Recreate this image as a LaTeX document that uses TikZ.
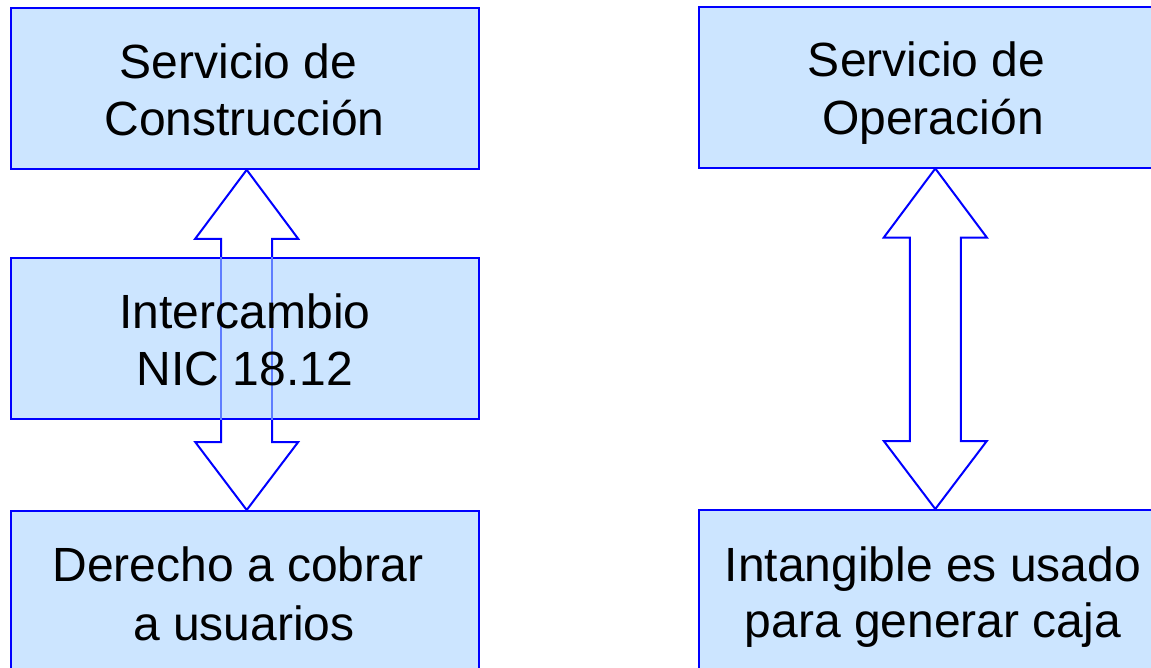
\documentclass[tikz,border=0pt]{standalone}
\usepackage{fontspec}
\setmainfont{Liberation Sans}
\usetikzlibrary{calc}
\definecolor{boxfill}{RGB}{204,229,255}
\definecolor{boxline}{RGB}{0,0,255}
\definecolor{shaftlight}{RGB}{95,125,255}
\begin{document}
\begin{tikzpicture}[x=1pt,y=-1pt,
  box/.style={draw=boxline, line width=2pt, fill=boxfill, minimum width=468pt, minimum height=161pt, inner sep=0pt},
  lbl/.style={font=\fontsize{48}{57}\selectfont, text=black, inner sep=0pt, anchor=base},
  dbl/.style={draw=boxline, line width=2pt, fill=white, line join=miter},
  lightshaft/.style={draw=shaftlight, line width=2pt}]
\useasboundingbox (0,0) rectangle (1151,667);
% box positions (nodes drawn after arrows)
\path (244.7,88.3) coordinate (pA) (244.7,338.4) coordinate (pB) (244.7,591.5) coordinate (pC)
      (933,87) coordinate (pD) (933,590.5) coordinate (pE);
\node[box, draw=none, fill=none] (A) at (pA) {};
\node[box, draw=none, fill=none] (C) at (pC) {};
\node[box, draw=none, fill=none] (D) at (pD) {};
\node[box, draw=none, fill=none] (E) at (pE) {};
% double arrows
\draw[dbl] let \p1=($(A.south)+(2pt,0)$), \p2=($(C.north)+(2pt,0)$) in
  (\x1,\y1) -- (\x1+51.5pt,\y1-69pt) -- (\x1+25.5pt,\y1-69pt) -- (\x1+25.5pt,\y2+68pt)
  -- (\x1+51.5pt,\y2+68pt) -- (\x2,\y2) -- (\x1-51.5pt,\y2+68pt) -- (\x1-25.5pt,\y2+68pt)
  -- (\x1-25.5pt,\y1-69pt) -- (\x1-51.5pt,\y1-69pt) -- cycle;
\draw[dbl] let \p1=($(D.south)+(2.3pt,0)$), \p2=($(E.north)+(2.3pt,0)$) in
  (\x1,\y1) -- (\x1+51.5pt,\y1-69pt) -- (\x1+25.5pt,\y1-69pt) -- (\x1+25.5pt,\y2+68pt)
  -- (\x1+51.5pt,\y2+68pt) -- (\x2,\y2) -- (\x1-51.5pt,\y2+68pt) -- (\x1-25.5pt,\y2+68pt)
  -- (\x1-25.5pt,\y1-69pt) -- (\x1-51.5pt,\y1-69pt) -- cycle;
% boxes
\node[box] (A2) at (pA) {};
\node[box] (B) at (pB) {};
\node[box] (C2) at (pC) {};
\node[box] (D2) at (pD) {};
\node[box] (E2) at (pE) {};
% shaft seen through the middle box
\draw[lightshaft] ($(B.north)+(2pt-25.5pt,0)$) -- ($(B.south)+(2pt-25.5pt,0)$);
\draw[lightshaft] ($(B.north)+(2pt+25.5pt,0)$) -- ($(B.south)+(2pt+25.5pt,0)$);
% texts
\node[lbl] (ta1) at (238.5,78.3) {Servicio de};
\node[lbl] (ta2) at (244.5,135) {Construcción};
\node[lbl] (tb1) at (245,328) {Intercambio};
\node[lbl] (tb2) at (245,385) {NIC 18.12};
\node[lbl] (tc1) at (238,581.7) {Derecho a cobrar};
\node[lbl] (tc2) at (244,640) {a usuarios};
\node[lbl] (td1) at (926.7,76.7) {Servicio de};
\node[lbl] (td2) at (933,134.3) {Operación};
\node[lbl] (te1) at (933,581.7) {Intangible es usado};
\node[lbl] (te2) at (933,637.5) {para generar caja};
\end{tikzpicture}
\end{document}
